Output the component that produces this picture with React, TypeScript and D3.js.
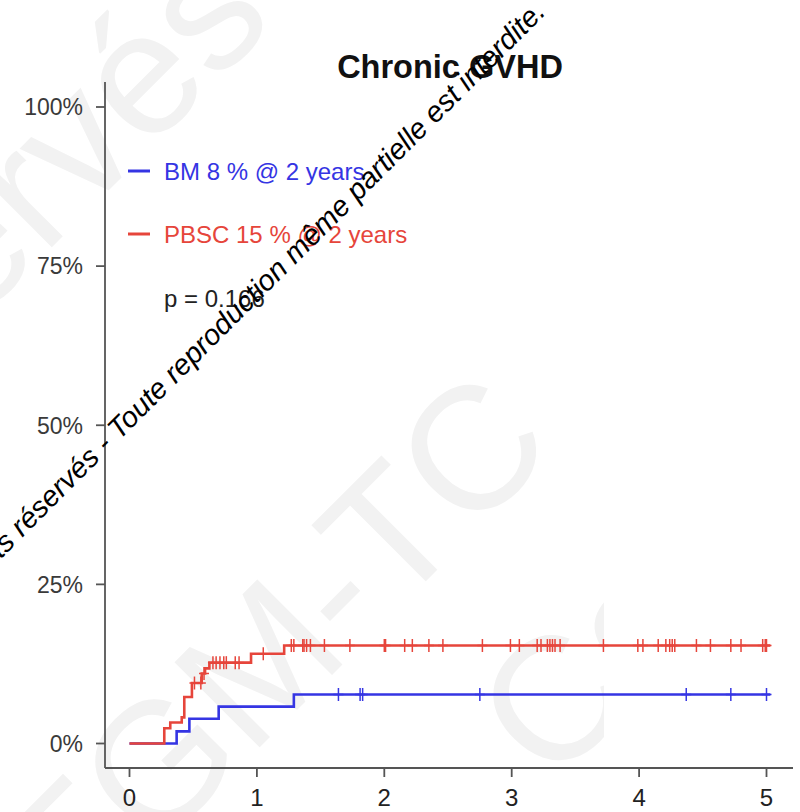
import React from 'react';
import * as d3 from 'd3';

const chartTitle = 'Chronic GVHD';
const xTicks = [0, 1, 2, 3, 4, 5];
const yTicks = [0, 25, 50, 75, 100];
const yTickLabels = ['0%', '25%', '50%', '75%', '100%'];

// BM group: event times (years) and cumulative incidence (%)
const bmTimes = [0, 0.37, 0.47, 0.7, 1.29];
const bmCif = [0, 1.9, 3.9, 5.8, 7.7];
const bmCensored = [1.64, 1.81, 1.83, 2.75, 4.37, 4.72, 5.0];

// PBSC group
const pbscTimes = [0, 0.273, 0.32, 0.41, 0.43, 0.49, 0.567, 0.593, 0.627, 0.954, 1.214];
const pbscCif = [0, 2.4, 3.3, 4.1, 7.3, 9.5, 11.0, 11.8, 12.7, 14.1, 15.4];
const pbscCensored = [
  0.51, 0.56, 0.585, 0.655, 0.68, 0.71, 0.74, 0.76, 0.83, 0.86, 1.05,
  1.27, 1.29, 1.36, 1.37, 1.39, 1.42, 1.53, 1.73, 2.0, 2.01, 2.16, 2.22, 2.35, 2.46,
  2.77, 2.99, 3.06, 3.2, 3.23, 3.28, 3.3, 3.32, 3.34, 3.38, 3.72, 3.99, 4.03, 4.15,
  4.21, 4.24, 4.26, 4.28, 4.45, 4.56, 4.72, 4.8, 4.97, 4.99, 5.0,
];
const followUpEnd = 5.03;

const legendLabels = ['BM 8 % @ 2 years', 'PBSC 15 % @ 2 years'];
const pValueLabel = 'p = 0.166';
const watermarkText = 'Tous droits réservés - Toute reproduction même partielle est interdite.';
const bigWatermarkLines = ['Tous droits réservés', 'SFGM-TC', 'Copyright'];

const BLUE = '#3535e3';
const RED = '#e6453b';
const FONT = '"Liberation Sans", Arial, Helvetica, sans-serif';

export default function App() {
  const x = d3.scaleLinear().domain([0, 5]).range([129.5, 766.5]);
  const y = d3.scaleLinear().domain([0, 100]).range([743.5, 107]);

  const stepLine = d3
    .line<[number, number]>()
    .x((d) => x(d[0]))
    .y((d) => y(d[1]))
    .curve(d3.curveStepAfter);

  const series = [
    { times: bmTimes, cif: bmCif, censored: bmCensored, color: BLUE },
    { times: pbscTimes, cif: pbscCif, censored: pbscCensored, color: RED },
  ];

  const valueAt = (times: number[], cif: number[], t: number) => {
    const i = d3.bisectRight(times, t) - 1;
    return cif[Math.max(0, i)];
  };

  return (
    <svg
      width={800}
      height={812}
      style={{ position: 'absolute', left: 0, top: 0, background: '#fff' }}
      fontFamily={FONT}
    >
      <defs>
        <clipPath id="wmclip">
          <rect x={0} y={0} width={604} height={812} />
        </clipPath>
      </defs>
      <rect width={800} height={812} fill="#fff" />
      {/* faint background watermark */}
      <g fill="#f2f2f2" fontSize={175} fontFamily={FONT} clipPath="url(#wmclip)">
        <text transform="translate(277,22) rotate(-45)" textAnchor="end">
          {bigWatermarkLines[0]}
        </text>
        <text transform="translate(-5,1012) rotate(-45)">{bigWatermarkLines[1]}</text>
        <text transform="translate(551,788) rotate(-45)">{bigWatermarkLines[2]}</text>
      </g>

      {/* title */}
      <text x={450} y={78} textAnchor="middle" fontSize={32.5} fontWeight="bold" fill="#111">
        {chartTitle}
      </text>

      {/* axes */}
      <g stroke="#555" strokeWidth={1.8} fill="none">
        <line x1={105} x2={105} y1={82} y2={768} />
        <line x1={105} x2={793} y1={768} y2={768} />
        {yTicks.map((t) => (
          <line key={'yt' + t} x1={96} x2={105} y1={y(t)} y2={y(t)} />
        ))}
        {xTicks.map((t) => (
          <line key={'xt' + t} x1={x(t)} x2={x(t)} y1={768} y2={777} />
        ))}
      </g>
      <g fontSize={23} fill="#3a3a3a" textAnchor="end">
        {yTicks.map((t, i) => (
          <text key={'yl' + t} x={83} y={y(t)} dy="0.36em">
            {yTickLabels[i]}
          </text>
        ))}
      </g>
      <g fontSize={24} fill="#222" textAnchor="middle">
        {xTicks.map((t) => (
          <text key={'xl' + t} x={x(t)} y={806}>
            {t}
          </text>
        ))}
      </g>

      {/* curves */}
      {series.map((s, si) => {
        const pts: [number, number][] = s.times.map((t, i) => [t, s.cif[i]]);
        pts.push([followUpEnd, s.cif[s.cif.length - 1]]);
        return (
          <g key={'s' + si}>
            <path d={stepLine(pts) || ''} fill="none" stroke={s.color} strokeWidth={2.6} />
            <g stroke={s.color} strokeWidth={1.5}>
              {s.censored.map((c, ci) => {
                const cy = y(valueAt(s.times, s.cif, c));
                const cx = x(c);
                return (
                  <g key={'c' + ci}>
                    <line x1={cx} x2={cx} y1={cy - 6.5} y2={cy + 6.5} />
                    <line x1={cx - 5} x2={cx + 5} y1={cy} y2={cy} />
                  </g>
                );
              })}
            </g>
          </g>
        );
      })}

      {/* legend */}
      {[BLUE, RED].map((col, i) => (
        <g key={'lg' + i}>
          <line x1={128} x2={150} y1={171 + i * 63} y2={171 + i * 63} stroke={col} strokeWidth={3} />
          <text x={164} y={171 + i * 63} dy="0.36em" fontSize={24} fill={col}>
            {legendLabels[i]}
          </text>
        </g>
      ))}
      <text x={164} y={298} dy="0.36em" fontSize={24} fill="#222">
        {pValueLabel}
      </text>

      {/* foreground watermark text */}
      <text
        transform="translate(547,13) rotate(-45)"
        textAnchor="end"
        fontSize={29}
        fontStyle="italic"
        fill="#000"
      >
        {watermarkText}
      </text>
    </svg>
  );
}
